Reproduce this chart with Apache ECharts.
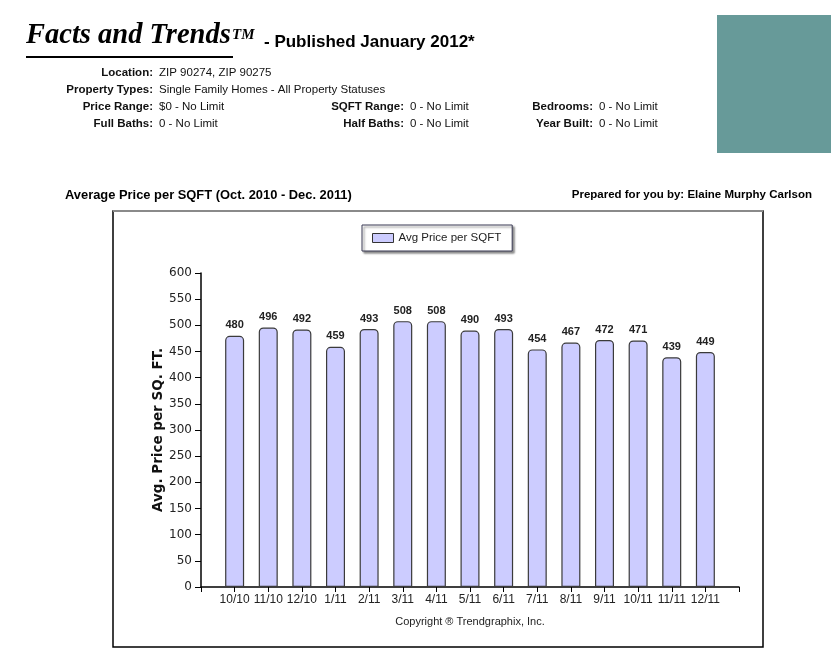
<!DOCTYPE html>
<html>
<head>
<meta charset="utf-8">
<title>Facts and Trends - Avg Price per SQFT</title>
<script src="https://cdn.jsdelivr.net/npm/echarts@6/dist/echarts.min.js"></script>
<style>
	html, body { margin: 0; padding: 0; background: #fff; }
	#zoom { width: 831px; height: 654px; }
</style>
</head>
<body>
<div id="zoom"></div>
<script>
	// data
	const months = ['10/10', '11/10', '12/10', '1/11', '2/11', '3/11', '4/11', '5/11', '6/11', '7/11', '8/11', '9/11', '10/11', '11/11', '12/11']
	const avgPrice = [480, 496, 492, 459, 493, 508, 508, 490, 493, 454, 467, 472, 471, 439, 449]
	const yTicks = { min: 0, max: 600, interval: 50 }

	// header info rows: [label, value]
	const infoCol1 = [['Location:', 'ZIP 90274, ZIP 90275'], ['Property Types:', 'Single Family Homes - All Property Statuses'], ['Price Range:', '$0 - No Limit'], ['Full Baths:', '0 - No Limit']]
	const infoCol2 = [['SQFT Range:', '0 - No Limit'], ['Half Baths:', '0 - No Limit']]
	const infoCol3 = [['Bedrooms:', '0 - No Limit'], ['Year Built:', '0 - No Limit']]

	const sans = '"Liberation Sans", Arial, sans-serif'
	const serif = '"Liberation Serif", "Times New Roman", serif'
	const rowY = [73, 90, 107, 124]

	// empty slot at each end of the category axis, like the original
	const axisCats = [''].concat(months, [''])
	const barData = ['-'].concat(avgPrice, ['-'])

	const infoText = (col, labelX, rowStart) => {
		let out = []
		col.forEach((r, i) => {
			out.push({ type: 'text', style: { text: r[0], x: labelX, y: rowY[rowStart + i], font: 'bold 11.5px ' + sans, fill: '#111', textAlign: 'right', textVerticalAlign: 'middle' } })
			out.push({ type: 'text', style: { text: r[1], x: labelX + 6, y: rowY[rowStart + i], font: '11.5px ' + sans, fill: '#111', textAlign: 'left', textVerticalAlign: 'middle' } })
		})
		return out
	}

	let graphics = [
		// teal block top right
		{ type: 'rect', shape: { x: 717, y: 15, width: 114, height: 138 }, style: { fill: '#679a99' } },
		// title
		{ type: 'text', style: { text: 'Facts and Trends', x: 26, y: 50, font: 'italic bold 28.5px ' + serif, fill: '#000', textAlign: 'left', textVerticalAlign: 'bottom' } },
		{ type: 'text', style: { text: 'TM', x: 232, y: 43, font: 'italic bold 15px ' + serif, fill: '#000', textAlign: 'left', textVerticalAlign: 'bottom' } },
		{ type: 'text', style: { text: '- Published January 2012*', x: 264, y: 51, font: 'bold 17px ' + sans, fill: '#000', textAlign: 'left', textVerticalAlign: 'bottom' } },
		{ type: 'rect', shape: { x: 26, y: 56, width: 207, height: 2 }, style: { fill: '#000' } },
		// section headings
		{ type: 'text', style: { text: 'Average Price per SQFT (Oct. 2010 - Dec. 2011)', x: 65, y: 195, font: 'bold 12.9px ' + sans, fill: '#000', textAlign: 'left', textVerticalAlign: 'middle' } },
		{ type: 'text', style: { text: 'Prepared for you by: Elaine Murphy Carlson', x: 812, y: 195, font: 'bold 11.5px ' + sans, fill: '#000', textAlign: 'right', textVerticalAlign: 'middle' } },
		// chart frame
		{ type: 'rect', shape: { x: 113, y: 211, width: 650, height: 436 }, style: { fill: 'none', stroke: '#000', lineWidth: 1.5 } },
		{ type: 'rect', shape: { x: 113, y: 210, width: 650, height: 2 }, style: { fill: '#8a8a8a' } },
		// copyright
		{ type: 'text', style: { text: 'Copyright \u00ae Trendgraphix, Inc.', x: 470, y: 622, font: '11px ' + sans, fill: '#222', textAlign: 'center', textVerticalAlign: 'middle' } }
	]
	graphics = graphics.concat(infoText(infoCol1, 153, 0), infoText(infoCol2, 404, 2), infoText(infoCol3, 593, 2))

	let myChart = echarts.init(document.getElementById('zoom'), null, { renderer: 'canvas' })

	const option = {
		backgroundColor: '#fff',
		animation: false,
		legend: {
			data: ['Avg Price per SQFT'],
			left: 362,
			top: 225,
			padding: [7, 11, 7, 10],
			itemWidth: 21,
			itemHeight: 9,
			itemGap: 5,
			backgroundColor: '#fff',
			borderColor: '#3a3a55',
			borderWidth: 1,
			shadowBlur: 2,
			shadowColor: 'rgba(0,0,0,0.45)',
			shadowOffsetX: 2,
			shadowOffsetY: 2,
			icon: 'rect',
			itemStyle: { color: '#ccccff', borderColor: '#333', borderWidth: 1 },
			textStyle: { fontFamily: sans, fontSize: 11.5, color: '#222' }
		},
		grid: {
			left: 201,
			right: 92,
			top: 273,
			bottom: 67
		},
		xAxis: {
			type: 'category',
			data: axisCats,
			boundaryGap: false,
			axisLine: { lineStyle: { color: '#000', width: 1.5 } },
			axisTick: { show: true, interval: 0, length: 5, lineStyle: { color: '#000' } },
			axisLabel: { interval: 0, margin: 7, fontFamily: sans, fontSize: 12, color: '#222' },
			splitLine: { show: false }
		},
		yAxis: {
			type: 'value',
			min: yTicks.min,
			max: yTicks.max,
			interval: yTicks.interval,
			name: 'Avg. Price per SQ. FT.',
			nameLocation: 'middle',
			nameGap: 36,
			nameMoveOverlap: false,
			nameTextStyle: { fontFamily: '"DejaVu Sans", Verdana, sans-serif', fontWeight: 'bold', fontSize: 13.5, color: '#111' },
			axisLine: { show: true, lineStyle: { color: '#000', width: 1.5 } },
			axisTick: { show: true, length: 6, lineStyle: { color: '#000' } },
			axisLabel: { margin: 9, fontFamily: '"DejaVu Sans", Tahoma, sans-serif', fontSize: 12, color: '#222' },
			splitLine: { show: false }
		},
		graphic: graphics,
		series: [{
			name: 'Avg Price per SQFT',
			type: 'bar',
			barWidth: 19,
			data: barData,
			itemStyle: {
				color: '#ccccff',
				borderColor: '#3b3b3b',
				borderWidth: 1.2,
				borderRadius: [4, 4, 0, 0]
			},
			label: {
				show: true,
				position: 'top',
				distance: 5,
				fontFamily: sans,
				fontWeight: 'bold',
				fontSize: 11,
				color: '#222'
			}
		}]
	}

	myChart.setOption(option)
</script>
</body>
</html>
